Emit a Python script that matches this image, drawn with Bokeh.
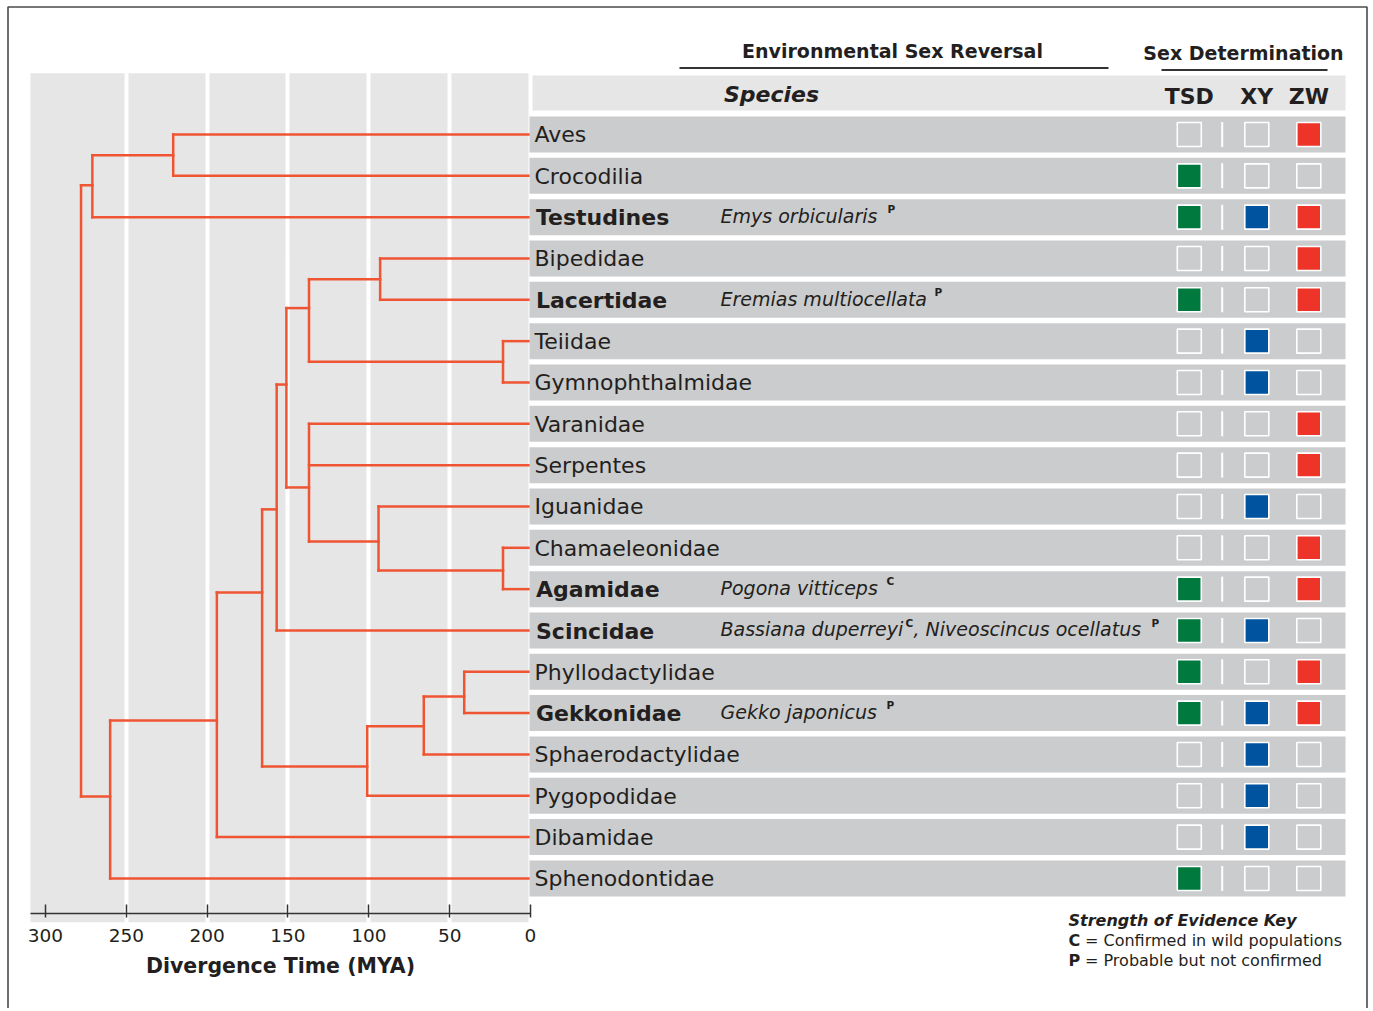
from bokeh.plotting import figure
from bokeh.models import Range1d, LinearAxis, FixedTicker, Grid, Label, BoxAnnotation
from bokeh.core.properties import value
from bokeh.embed import file_html
from bokeh.resources import INLINE

# ---------------- data ----------------
taxa = ["Aves", "Crocodilia", "Testudines", "Bipedidae", "Lacertidae",
        "Teiidae", "Gymnophthalmidae", "Varanidae", "Serpentes", "Iguanidae",
        "Chamaeleonidae", "Agamidae", "Scincidae", "Phyllodactylidae",
        "Gekkonidae", "Sphaerodactylidae", "Pygopodidae", "Dibamidae",
        "Sphenodontidae"]
env_sex_reversal = [0, 0, 1, 0, 1, 0, 0, 0, 0, 0, 0, 1, 1, 0, 1, 0, 0, 0, 0]
tsd = [0, 1, 1, 0, 1, 0, 0, 0, 0, 0, 0, 1, 1, 1, 1, 0, 0, 0, 1]
xy = [0, 0, 1, 0, 0, 1, 1, 0, 0, 1, 0, 0, 1, 0, 1, 1, 1, 1, 0]
zw = [1, 0, 1, 1, 1, 0, 0, 1, 1, 0, 1, 1, 0, 1, 1, 0, 0, 0, 0]
sd_columns = ["TSD", "XY", "ZW"]

esr_taxa = ["Testudines", "Lacertidae", "Agamidae", "Scincidae", "Scincidae", "Gekkonidae"]
esr_species = ["Emys orbicularis", "Eremias multiocellata", "Pogona vitticeps",
               "Bassiana duperreyi", "Niveoscincus ocellatus", "Gekko japonicus"]
esr_evidence = ["P", "P", "C", "C", "P", "P"]

# tree: internal nodes (age in MYA, vertical position in row units, children)
node_names = ["Archosauria", "Archelosauria", "LacBip", "Teioidea", "Lacertoidea",
              "Acrodonta", "Iguania", "Toxicofera", "Episquamata", "Unidentata",
              "Gekkonoidea", "GekSph", "Gekkota", "SquamataCore", "Squamata",
              "Lepidosauria", "Root"]
node_age = [221, 271, 93, 17, 137, 17, 94, 137, 151, 157, 41, 66, 101, 166, 194, 260, 278]
node_row = [0.5, 1.23, 3.5, 5.5, 4.2, 10.55, 9.85, 8.54, 6.05, 9.07, 13.6, 14.32,
            15.29, 11.08, 14.18, 16.02, 8.6]
node_children = [["Aves", "Crocodilia"], ["Archosauria", "Testudines"],
                 ["Bipedidae", "Lacertidae"], ["Teiidae", "Gymnophthalmidae"],
                 ["LacBip", "Teioidea"], ["Chamaeleonidae", "Agamidae"],
                 ["Iguanidae", "Acrodonta"], ["Varanidae", "Serpentes", "Iguania"],
                 ["Lacertoidea", "Toxicofera"], ["Episquamata", "Scincidae"],
                 ["Phyllodactylidae", "Gekkonidae"], ["Gekkonoidea", "Sphaerodactylidae"],
                 ["GekSph", "Pygopodidae"], ["Unidentata", "Gekkota"],
                 ["SquamataCore", "Dibamidae"], ["Squamata", "Sphenodontidae"],
                 ["Archelosauria", "Lepidosauria"]]

age_ticks = [300, 250, 200, 150, 100, 50, 0]
axis_title = "Divergence Time (MYA)"
key_title = "Strength of Evidence Key"
key_codes = ["C", "P"]
key_text = ["= Confirmed in wild populations", "= Probable but not confirmed"]

# ---------------- layout / style ----------------
W, H = 1368, 1008
ZERO_X = 530.0
PX_PER_MYA = 1.6167
ROW0_Y = 134.0
ROW_H = 41.33
AXIS_Y = 913.0

FONT = "DejaVu Sans"
INK = "#231f20"
TREE = "#ef5533"
PANEL = "#e6e6e6"
ROWC = "#cbcccd"
SQ_COLORS = ["#00793f", "#00539f", "#ee3429"]
COL_X = [1188.8, 1256.3, 1308.3]
DIV_X = 1221.7
BL = 0.36  # baseline correction (em)


def mya_at(px):
    return (ZERO_X - px) / PX_PER_MYA


def row_at(py):
    return (py - ROW0_Y) / ROW_H


p = figure(width=W, height=H, output_backend="svg", toolbar_location=None,
           x_range=Range1d(mya_at(0), mya_at(W)),
           y_range=Range1d(row_at(H), row_at(0)),
           x_axis_type=None, y_axis_type=None,
           min_border_left=0, min_border_right=0, min_border_top=0,
           min_border_bottom=0)
p.extra_x_ranges = {"tbl": Range1d(0, W)}
p.extra_y_ranges = {"py": Range1d(H, 0)}
p.outline_line_color = None
p.background_fill_color = "white"
p.border_fill_color = "white"

# tree background panel + white vertical grid
bg = p.quad(left=mya_at(30), right=mya_at(528), top=row_at(72.7), bottom=row_at(922),
            fill_color=PANEL, line_color=None)
bg.level = "image"
grid = Grid(dimension=0, ticker=FixedTicker(ticks=age_ticks[1:-1]),
            grid_line_color="white", grid_line_width=4, bounds=(0, 300))
p.add_layout(grid)
# cover grid below the panel
p.quad(left=mya_at(0), right=mya_at(528), top=row_at(922), bottom=row_at(H),
       fill_color="white", line_color=None)

# tree segments
pos = {t: (0.0, float(i)) for i, t in enumerate(taxa)}
for n, a, r in zip(node_names, node_age, node_row):
    pos[n] = (float(a), float(r))
sx0, sy0, sx1, sy1 = [], [], [], []
for n, a, kids in zip(node_names, node_age, node_children):
    ys = [pos[k][1] for k in kids]
    sx0.append(a); sx1.append(a); sy0.append(min(ys)); sy1.append(max(ys))
    for k in kids:
        sx0.append(a); sx1.append(pos[k][0]); sy0.append(pos[k][1]); sy1.append(pos[k][1])
p.segment(x0=sx0, y0=sy0, x1=sx1, y1=sy1, line_color=TREE, line_width=2.5,
          line_cap="square")

# axis (fixed inside the frame)
ax = LinearAxis(ticker=FixedTicker(ticks=age_ticks), bounds=(0, mya_at(30)),
                fixed_location=row_at(AXIS_Y),
                axis_line_color="#333333", axis_line_width=1.5,
                major_tick_line_color="#333333", major_tick_line_width=1.5,
                major_tick_in=9, major_tick_out=4,
                minor_tick_line_color=None,
                major_label_standoff=11,
                major_label_text_font=FONT, major_label_text_font_size="18.5px",
                major_label_text_color=INK)
p.add_layout(ax, "below")
fs = 20.5
p.text(x=[mya_at(280)], y=[row_at(972.7)], text=[axis_title],
       text_font=value(FONT), text_font_size=f"{fs}px", text_font_style="bold",
       text_color=INK, text_align="center", text_baseline="alphabetic",
       y_offset=-BL * fs)

# table: header band and rows
rows = list(range(len(taxa)))
p.quad(left=532, right=1345, top=75, bottom=110, fill_color=PANEL, line_color=None,
       x_range_name="tbl", y_range_name="py")
half = 18.0 / ROW_H
p.quad(left=529, right=1345, top=[r - half for r in rows], bottom=[r + half for r in rows],
       fill_color=ROWC, line_color=None, x_range_name="tbl")

# sex determination squares
for cx, vals, col in zip(COL_X, [tsd, xy, zw], SQ_COLORS):
    p.rect(x=[cx] * len(rows), y=rows, width=24, height=24,
           width_units="screen", height_units="screen",
           fill_color=[col if v else ROWC for v in vals],
           line_color="white", line_width=1.6, x_range_name="tbl")
p.segment(x0=[DIV_X] * len(rows), x1=[DIV_X] * len(rows),
          y0=[r - 12.5 / ROW_H for r in rows], y1=[r + 12.5 / ROW_H for r in rows],
          line_color="white", line_width=2, x_range_name="tbl")

# taxon names
norm = [i for i in rows if not env_sex_reversal[i]]
bold = [i for i in rows if env_sex_reversal[i]]
p.text(x=[534] * len(norm), y=norm, text=[taxa[i] for i in norm], x_range_name="tbl",
       text_font=value(FONT), text_font_size="22px", text_color=INK,
       text_align="left", text_baseline="alphabetic", y_offset=8.3 - BL * 22)
p.text(x=[535.5] * len(bold), y=bold, text=[taxa[i] for i in bold], x_range_name="tbl",
       text_font=value(FONT), text_font_size="22px", text_font_style="bold",
       text_color=INK, text_align="left", text_baseline="alphabetic",
       y_offset=8.6 - BL * 22)

# species with environmental sex reversal
species_x = [720, 720, 720, 720, 913, 720]
sup_x = [887, 934, 886, 905, 1151, 886]
sp_rows = [taxa.index(t) for t in esr_taxa]
sp_text = []
for k, (t, s) in enumerate(zip(esr_taxa, esr_species)):
    sp_text.append(s if esr_taxa.index(t) == k else ", " + s)
p.text(x=species_x, y=sp_rows, text=sp_text, x_range_name="tbl",
       text_font=value(FONT), text_font_size="19px", text_font_style="italic",
       text_color=INK, text_align="left", text_baseline="alphabetic",
       y_offset=5.7 - BL * 19)
p.text(x=sup_x, y=sp_rows, text=esr_evidence, x_range_name="tbl",
       text_font=value(FONT), text_font_size="10.5px", text_font_style="bold",
       text_color=INK, text_align="left", text_baseline="alphabetic",
       y_offset=-4 - BL * 10.5)

# headers
p.text(x=[771], y=[101.7], text=["Species"], x_range_name="tbl", y_range_name="py",
       text_font=value(FONT), text_font_size="22px", text_font_style="bold italic",
       text_color=INK, text_align="center", text_baseline="alphabetic",
       y_offset=-BL * 22)
p.text(x=COL_X, y=[104] * 3, text=sd_columns, x_range_name="tbl", y_range_name="py",
       text_font=value(FONT), text_font_size="22px", text_font_style="bold",
       text_color=INK, text_align="center", text_baseline="alphabetic",
       y_offset=-BL * 22)
p.text(x=[892, 1243], y=[57.3, 59.3], text=["Environmental Sex Reversal", "Sex Determination"],
       x_range_name="tbl", y_range_name="py",
       text_font=value(FONT), text_font_size="19px", text_font_style="bold",
       text_color=INK, text_align="center", text_baseline="alphabetic",
       y_offset=-BL * 19)
p.segment(x0=[679, 1161], x1=[1108, 1327], y0=[67.5, 69.6], y1=[67.5, 69.6],
          line_color="#333333", line_width=2, x_range_name="tbl", y_range_name="py")

# evidence key
kfs = 16
p.add_layout(Label(x=1068, y=925.5, x_range_name="tbl", y_range_name="py", text=key_title,
                   text_font=FONT, text_font_size=f"{kfs}px", text_font_style="bold italic",
                   text_color=INK, text_baseline="alphabetic", y_offset=BL * kfs))
for j, (c, t) in enumerate(zip(key_codes, key_text)):
    yb = 946 + j * 20
    p.add_layout(Label(x=1068, y=yb, x_range_name="tbl", y_range_name="py", text=c,
                       text_font=FONT, text_font_size=f"{kfs}px", text_font_style="bold",
                       text_color=INK, text_baseline="alphabetic", y_offset=BL * kfs))
    p.add_layout(Label(x=1084.5, y=yb, x_range_name="tbl", y_range_name="py", text=t,
                       text_font=FONT, text_font_size=f"{kfs}px",
                       text_color=INK, text_baseline="alphabetic", y_offset=BL * kfs))

# outer frame
p.add_layout(BoxAnnotation(left=7.5, right=1366.5, top=6.5, bottom=1040,
                           x_range_name="tbl", y_range_name="py",
                           fill_color=None, fill_alpha=0, line_color="#4a4a4a",
                           line_alpha=1.0, line_width=1.6, level="overlay"))

open("out.html", "w").write(file_html(p, INLINE))
